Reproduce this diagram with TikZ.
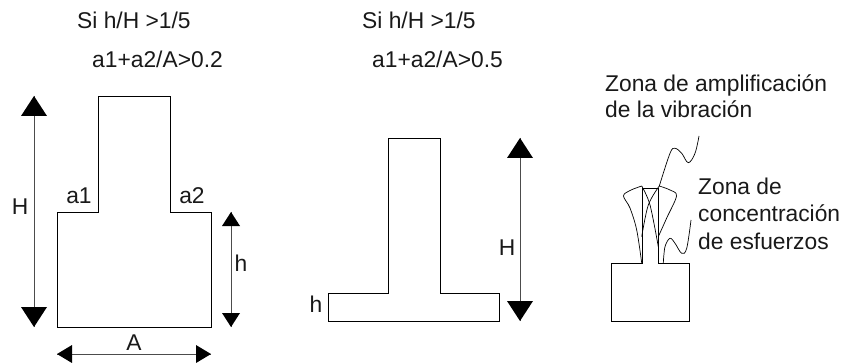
\documentclass[tikz,border=0pt]{standalone}
\usepackage{fontspec}
\setmainfont{Liberation Sans}
\tikzset{
 x=1pt,y=-1pt,
 line/.style={draw=black,line width=0.9pt},
 thin curve/.style={draw=black,line width=0.7pt},
 lbl/.style={font=\fontsize{22.8}{26}\selectfont,inner sep=0pt,text=black!90},
 lft/.style={lbl,anchor=base west},
 dim/.style={draw=black!70,line width=0.9pt},
 head/.style={fill=black,draw=none}
}
\begin{document}
\begin{tikzpicture}
\useasboundingbox (0,0) rectangle (842,363);
\draw[line] (57,327) -- (57,212) -- (98.5,212) -- (98.5,96) -- (170,96) -- (170,212) -- (211,212) -- (211,327) -- cycle;
\draw[line] (328,321) -- (328,293) -- (388,293) -- (388,138) -- (440,138) -- (440,293) -- (499,293) -- (499,321) -- cycle;
\draw[line] (611,321) -- (611,263) -- (642,263) -- (642,188) -- (658,188) -- (658,263) -- (689,263) -- (689,321) -- cycle;
% H left
\coordinate (ha) at (34,96); \coordinate (hb) at (34,327);
\draw[dim] (ha) -- (hb);
\fill[head] (ha) -- +(13,20) -- +(-13,20) -- cycle;
\fill[head] (hb) -- +(13,-20) -- +(-13,-20) -- cycle;
% h left
\coordinate (ia) at (231,212); \coordinate (ib) at (231,327);
\draw[dim] (ia) -- (ib);
\fill[head] (ia) -- +(9,14) -- +(-9,14) -- cycle;
\fill[head] (ib) -- +(9,-14) -- +(-9,-14) -- cycle;
% A
\coordinate (aa) at (57,354); \coordinate (ab) at (211,354);
\draw[dim] (aa) -- (ab);
\fill[head] (aa) -- +(15,9) -- +(15,-9) -- cycle;
\fill[head] (ab) -- +(-15,9) -- +(-15,-9) -- cycle;
% H mid
\coordinate (ja) at (520,138); \coordinate (jb) at (520,321);
\draw[dim] (ja) -- (jb);
\fill[head] (ja) -- +(13,20) -- +(-13,20) -- cycle;
\fill[head] (jb) -- +(13,-20) -- +(-13,-20) -- cycle;
% curves
\draw[thin curve] plot[smooth,tension=0.55] coordinates {(641.7,263) (636.7,230) (630,208) (623.5,196) (630,190.5) (641.7,186)};
\draw[thin curve] plot[smooth,tension=0.55] coordinates {(641.7,186) (650,205) (658.3,246.7)};
\draw[thin curve] plot[smooth,tension=0.55] coordinates {(641.7,236.7) (648.3,205) (659.3,186)};
\draw[thin curve] plot[smooth,tension=0.55] coordinates {(659.3,186) (670,190) (676.5,196) (666.7,218) (658.3,236.7)};
\draw[thin curve] plot[smooth,tension=0.6] coordinates {(659.3,186) (670,153.3) (675,148.3) (681.7,153.3) (688.3,162.7) (695,153.3) (699,136)};
\draw[thin curve] plot[smooth,tension=0.6] coordinates {(663.3,263) (665,246.7) (670,238.3) (675,243.3) (681.7,253.3) (686.7,248.3) (691,220)};
% text
\node[lft] (t1) at (77,29) {Si h/H >1/5};
\node[lft] (t2) at (92,68) {a1+a2/A>0.2};
\node[lft] (t3) at (362,29) {Si h/H >1/5};
\node[lft] (t4) at (372,68) {a1+a2/A>0.5};
\node[lft] (t5) at (605,92) {Zona de amplificación};
\node[lft] (t6) at (605,118) {de la vibración};
\node[lft] (t7) at (698,195) {Zona de};
\node[lft] (t8) at (698,222) {concentración};
\node[lft] (t9) at (698,249) {de esfuerzos};
\node[lbl] (l1) at (20,207) {H};
\node[lbl] (l2) at (79,196) {a1};
\node[lbl] (l3) at (192,196) {a2};
\node[lbl] (l4) at (241,263) {h};
\node[lbl] (l5) at (134,343) {A};
\node[lbl] (l6) at (507,248) {H};
\node[lbl] (l7) at (316,304) {h};
\end{tikzpicture}
\end{document}
